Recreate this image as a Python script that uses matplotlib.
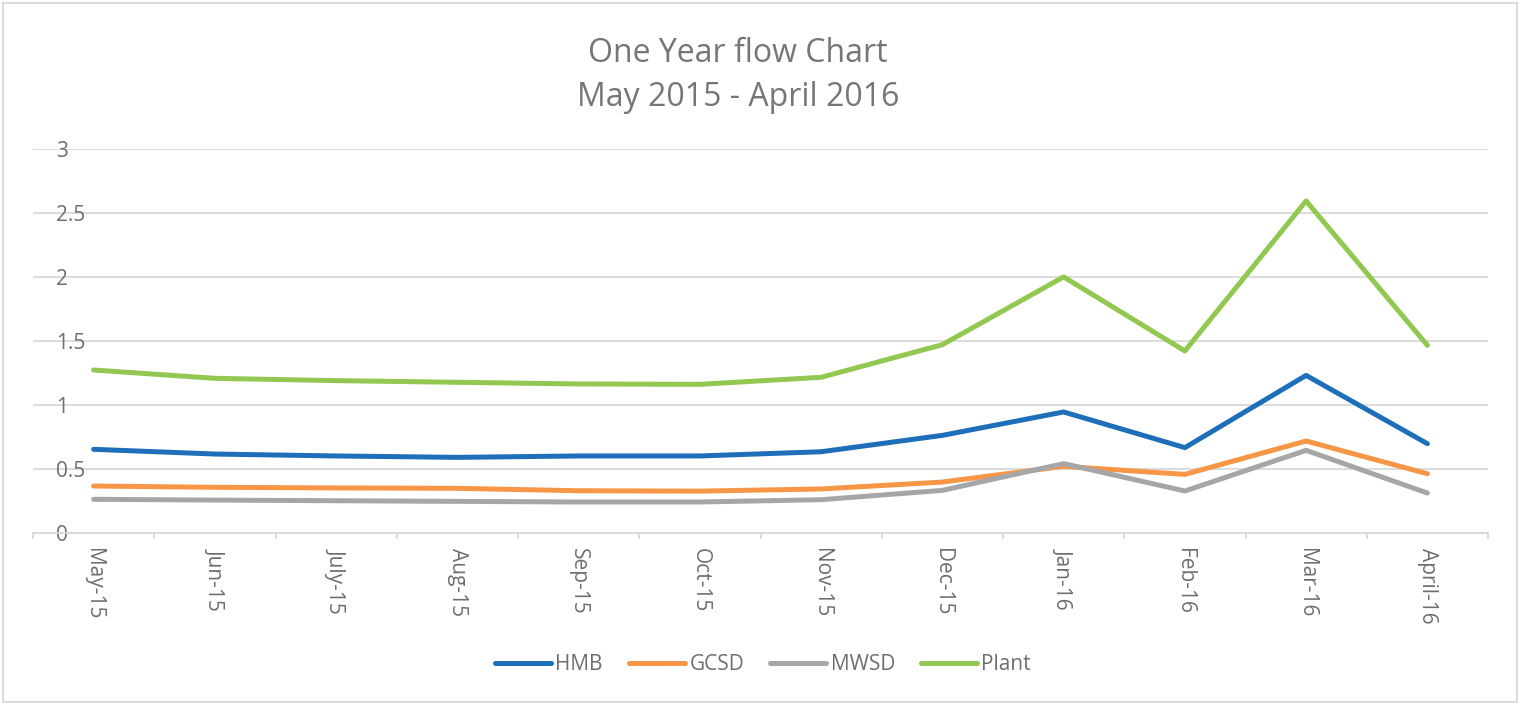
import numpy as np
import matplotlib
matplotlib.use("Agg")
import matplotlib.pyplot as plt
from matplotlib.patches import Rectangle

plt.rcParams['font.family'] = ['Open Sans', 'DejaVu Sans']

# months on the x axis
months = ['May-15', 'Jun-15', 'July-15', 'Aug-15', 'Sep-15', 'Oct-15',
          'Nov-15', 'Dec-15', 'Jan-16', 'Feb-16', 'Mar-16', 'April-16']

# flow values
hmb = [0.652, 0.615, 0.60, 0.589, 0.60, 0.60, 0.633, 0.761, 0.944, 0.665, 1.23, 0.696]
gcsd = [0.365, 0.355, 0.35, 0.347, 0.328, 0.325, 0.342, 0.396, 0.519, 0.456, 0.717, 0.461]
mwsd = [0.261, 0.255, 0.25, 0.245, 0.24, 0.24, 0.258, 0.331, 0.54, 0.326, 0.644, 0.31]
plant = [1.272, 1.207, 1.189, 1.176, 1.163, 1.16, 1.215, 1.47, 2.0, 1.421, 2.594, 1.465]

series_names = ['HMB', 'GCSD', 'MWSD', 'Plant']
series_colors = ['#1E6EB9', '#F79646', '#A5A6A8', '#92C851']

W, H = 1525, 704
fig = plt.figure(figsize=(W / 100, H / 100), dpi=100)

# light outer frame like the excel chart area
fig.patches.append(Rectangle((3 / W, 2 / H), 1514 / W, 699 / H, transform=fig.transFigure,
                             fill=False, edgecolor='#d9d9d9', linewidth=1.3))

ax = fig.add_axes([33 / W, (H - 532.7) / H, (1488 - 33) / W, (532.7 - 149) / H])

x = np.arange(len(months))
for vals, name, col in zip([hmb, gcsd, mwsd, plant], series_names, series_colors):
    ax.plot(x, vals, color=col, lw=3.6, label=name,
            solid_capstyle='round', solid_joinstyle='round')

ax.set_xlim(-0.5, len(months) - 0.5)
ax.set_ylim(0, 3)
ax.set_yticks([0, 0.5, 1, 1.5, 2, 2.5, 3])
ax.set_yticklabels(['0', '0.5', '1', '1.5', '2', '2.5', '3'])
ax.grid(axis='y', color='#d9d9d9', lw=1.3)
ax.set_axisbelow(True)

for s in ['top', 'right', 'left']:
    ax.spines[s].set_visible(False)
ax.spines['bottom'].set_color('#d9d9d9')
ax.spines['bottom'].set_linewidth(1.3)

tick_col = '#6e6e6e'
fs = 15
ax.set_xticks(x)
ax.set_xticklabels(months, rotation=-90)
ax.set_xticks(np.arange(-0.5, len(months)), minor=True)
ax.tick_params(axis='x', which='major', length=0, pad=11, labelsize=fs, labelcolor=tick_col)
ax.tick_params(axis='x', which='minor', length=4.5, width=1.3, color='#d9d9d9')
ax.tick_params(axis='y', length=0, pad=-16.6, labelsize=fs, labelcolor=tick_col)
for lbl in ax.get_yticklabels():
    lbl.set_horizontalalignment('left')

fig.text(738 / W, 1 - 53 / H, 'One Year flow Chart', ha='center', va='center',
         fontsize=23, color='#767676')
fig.text(738 / W, 1 - 98 / H, 'May 2015 - April 2016', ha='center', va='center',
         fontsize=23, color='#767676')

leg = ax.legend(loc='center', bbox_to_anchor=(763 / W, 1 - 665 / H),
                bbox_transform=fig.transFigure, ncol=4, frameon=False,
                fontsize=fs, handlelength=2.7, handletextpad=0.2,
                columnspacing=1.25)
for t in leg.get_texts():
    t.set_color(tick_col)
for h in leg.get_lines():
    h.set_linewidth(3.6)
    h.set_solid_capstyle('round')

fig.savefig('out.png', dpi=100)
